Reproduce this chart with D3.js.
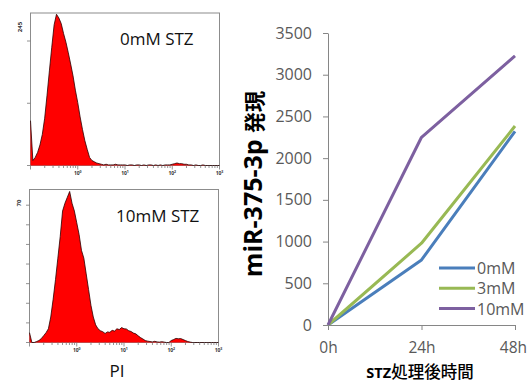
<!DOCTYPE html>
<html>
<head>
<meta charset="utf-8">
<script src="https://cdn.jsdelivr.net/npm/d3@7/dist/d3.min.js"></script>
<style>
  html, body { margin: 0; padding: 0; background: #ffffff; }
  svg { display: block; }
</style>
</head>
<body>
<svg id="chart" width="527" height="383"></svg>
<script>
// ---------------- DATA ----------------
// Flow cytometry PI histograms: log10 bins from 10^-1 to 10^3, step 0.05 decade
const histLogStart = -1;
const histLogStep = 0.05;
const histTopLabel = "0mM STZ";
const histBottomLabel = "10mM STZ";
const histTopMax = 245;
const histBottomMax = 78;
const histTopTickLabel = "245";
const histBottomTickLabel = "70";
const histXTickLabels = ["0", "1", "2", "3"];
const histXAxisTitle = "PI";

const countsTop = [
  72, 8, 13, 21, 33, 50, 76, 113, 152, 190,
  226, 243, 237, 228, 212, 198, 181, 163, 144, 121,
  101, 78, 58, 40, 26, 13, 8, 6, 4, 3,
  2, 1, 2, 1, 1, 1, 2, 1, 1, 1,
  1, 0, 1, 1, 0, 1, 1, 0, 1, 0,
  1, 1, 0, 1, 0, 1, 0, 1, 1, 1,
  2, 3, 4, 3, 3, 2, 2, 1, 1, 0,
  1, 0, 0, 1, 0, 0, 0, 0, 0, 0, 0
];
const countsBottom = [
  5, 0, 0, 0.5, 1, 2, 3.5, 5, 7, 13,
  22, 32, 43, 54, 67, 71, 74, 77, 71, 67,
  61, 55, 47, 43, 35, 27, 19, 13, 9, 7,
  6, 5.5, 4.6, 5.4, 5.2, 6.2, 5.8, 7, 6.6, 7.6,
  7, 6.9, 6, 5.6, 4.8, 4.4, 3.4, 2.5, 1.8, 1,
  0.7, 0.5, 0.3, 0.6, 0.3, 0.2, 0.4, 0.2, 0, 0,
  1, 1.5, 2.1, 1.9, 2, 1.5, 1, 0.5, 0.2, 0,
  0, 0, 0, 0, 0, 0, 0, 0, 0, 0, 0
];

// Line chart: miR-375-3p expression after STZ treatment
const timeCategories = ["0h", "24h", "48h"];
const seriesNames = ["0mM", "3mM", "10mM"];
const values0mM = [0, 780, 2320];
const values3mM = [0, 980, 2385];
const values10mM = [0, 2250, 3225];
const yTicks = [0, 500, 1000, 1500, 2000, 2500, 3000, 3500];
const yAxisTitleLatin = "miR-375-3p";
const yAxisTitleCJK = "発現";
const xAxisTitleLatin = "STZ";
const xAxisTitleCJK = "処理後時間";

// ---------------- DRAW ----------------
const svg = d3.select("#chart");
const latinFont = "'Open Sans', 'Liberation Sans', sans-serif";
const cjkFont = "'Noto Sans CJK JP', 'Noto Sans CJK SC', sans-serif";

function drawHistogram(counts, box, maxCount, label, tickLabel, tickStep, labelPos) {
  const g = svg.append("g");
  const x = d3.scaleLog().domain([0.1, 1000]).range([box.left, box.right]);
  const y = d3.scaleLinear().domain([0, maxCount]).range([box.bottom, box.top]);
  const data = counts.map((c, i) => ({ pi: Math.pow(10, histLogStart + i * histLogStep), count: c }));

  g.append("rect")
    .attr("x", box.left).attr("y", box.top)
    .attr("width", box.right - box.left).attr("height", box.bottom - box.top)
    .attr("fill", "none").attr("stroke", "#8c8c8c").attr("stroke-width", 1);

  g.append("path").datum(data)
    .attr("d", d3.area().x(d => x(d.pi)).y0(y(0)).y1(d => y(Math.min(d.count, maxCount))))
    .attr("fill", "#ff0000");
  g.append("path").datum(data)
    .attr("d", d3.line().x(d => x(d.pi)).y(d => y(Math.min(d.count, maxCount))))
    .attr("fill", "none").attr("stroke", "#2a0000").attr("stroke-width", 0.8);

  const tickVals = [];
  for (let dec = -1; dec < 3; dec++) {
    for (let m = 1; m < 10; m++) tickVals.push(m * Math.pow(10, dec));
  }
  tickVals.push(1000);
  g.append("g").selectAll("line").data(tickVals).join("line")
    .attr("x1", d => x(d)).attr("x2", d => x(d))
    .attr("y1", box.bottom).attr("y2", d => {
      const lg = Math.log10(d);
      return box.bottom + (Math.abs(lg - Math.round(lg)) < 1e-9 ? 4 : 2.5);
    })
    .attr("stroke", "#777").attr("stroke-width", 0.8);

  const majors = [1, 10, 100, 1000];
  const lbl = g.append("g").selectAll("text").data(majors).join("text")
    .attr("x", d => x(d)).attr("y", box.bottom + 9)
    .attr("text-anchor", "middle")
    .attr("font-family", latinFont).attr("font-size", 5).attr("font-weight", "bold")
    .attr("fill", "#333");
  lbl.append("tspan").text("10");
  lbl.append("tspan").attr("dy", -2).attr("font-size", 3.5).text((d, i) => histXTickLabels[i]);

  const yt = d3.range(0, maxCount + 0.001, tickStep);
  g.append("g").selectAll("line").data(yt).join("line")
    .attr("x1", box.left - 3.5).attr("x2", box.left)
    .attr("y1", d => y(d)).attr("y2", d => y(d))
    .attr("stroke", "#777").attr("stroke-width", 0.8);
  g.append("text")
    .attr("transform", `translate(${box.left - 9},${labelPos}) rotate(-90)`)
    .attr("text-anchor", "middle")
    .attr("font-family", latinFont).attr("font-size", 6).attr("font-weight", "bold")
    .attr("fill", "#333").text(tickLabel);

  g.append("text")
    .attr("x", label.x).attr("y", label.y)
    .attr("font-family", latinFont).attr("font-size", 17)
    .attr("fill", "#111").text(label.text);
}

drawHistogram(countsTop, { left: 30.5, right: 219.5, top: 13, bottom: 165.5 }, histTopMax,
  { x: 120, y: 45, text: histTopLabel }, histTopTickLabel, 100, 27);
drawHistogram(countsBottom, { left: 29.5, right: 218.5, top: 189.5, bottom: 342.5 }, histBottomMax,
  { x: 116, y: 222, text: histBottomLabel }, histBottomTickLabel, 10, 203);

svg.append("text")
  .attr("x", 117).attr("y", 377).attr("text-anchor", "middle")
  .attr("font-family", latinFont).attr("font-size", 17).attr("fill", "#111")
  .text(histXAxisTitle);

// ---------------- LINE CHART ----------------
const lx = d3.scalePoint().domain(timeCategories).range([328, 515]);
const ly = d3.scaleLinear().domain([0, 3500]).range([325, 33]);
const axisColor = "#868686";
const tickTextColor = "#595959";

const yAxisG = svg.append("g").attr("transform", "translate(328,0)")
  .call(d3.axisLeft(ly).tickValues(yTicks).tickFormat(d3.format("d"))
    .tickSize(5).tickSizeOuter(0).tickPadding(11));
yAxisG.select(".domain").attr("stroke", axisColor);
yAxisG.selectAll(".tick line").attr("stroke", axisColor);
yAxisG.selectAll(".tick text").attr("font-family", latinFont).attr("font-size", 16)
  .attr("fill", tickTextColor);

const xAxisG = svg.append("g").attr("transform", "translate(0,325)")
  .call(d3.axisBottom(lx).tickSize(5).tickSizeOuter(0));
xAxisG.select(".domain").attr("stroke", axisColor);
xAxisG.selectAll(".tick line").attr("stroke", axisColor);
xAxisG.selectAll(".tick text").attr("font-family", latinFont).attr("font-size", 15.5)
  .attr("fill", tickTextColor).attr("dy", null).attr("y", 28)
  .attr("text-anchor", (d, i) => i === timeCategories.length - 1 ? "end" : "middle")
  .attr("x", (d, i) => i === timeCategories.length - 1 ? 11.5 : 0);

const seriesData = [
  { name: seriesNames[0], values: values0mM, color: "#4a7ebb" },
  { name: seriesNames[1], values: values3mM, color: "#98b954" },
  { name: seriesNames[2], values: values10mM, color: "#7d60a0" }
];
const lineGen = d3.line().x((d, i) => lx(timeCategories[i])).y(d => ly(d));
svg.append("g").selectAll("path").data(seriesData).join("path")
  .attr("d", d => lineGen(d.values))
  .attr("fill", "none").attr("stroke", d => d.color).attr("stroke-width", 3)
  .attr("stroke-linejoin", "round");

const leg = svg.append("g").selectAll("g").data(seriesData).join("g")
  .attr("transform", (d, i) => `translate(439,${268 + i * 20.3})`);
leg.append("line").attr("x1", 0).attr("x2", 36).attr("y1", 0).attr("y2", 0)
  .attr("stroke", d => d.color).attr("stroke-width", 3);
leg.append("text").attr("x", 38).attr("y", 6)
  .attr("font-family", latinFont).attr("font-size", 16).attr("fill", tickTextColor)
  .text(d => d.name);

const yt = svg.append("text")
  .attr("transform", "translate(262,184) rotate(-90)")
  .attr("text-anchor", "middle")
  .attr("font-weight", "bold").attr("fill", "#000");
yt.append("tspan").attr("font-family", latinFont).attr("font-size", 25).text(yAxisTitleLatin + " ");
yt.append("tspan").attr("font-family", cjkFont).attr("font-size", 21).text(yAxisTitleCJK);

const xt = svg.append("text")
  .attr("x", 420).attr("y", 378).attr("text-anchor", "middle").attr("fill", "#000");
xt.append("tspan").attr("font-family", latinFont).attr("font-weight", "bold").attr("font-size", 14.5).text(xAxisTitleLatin);
xt.append("tspan").attr("font-family", cjkFont).attr("font-weight", "500").attr("font-size", 16.5).text(xAxisTitleCJK);
</script>
</body>
</html>
